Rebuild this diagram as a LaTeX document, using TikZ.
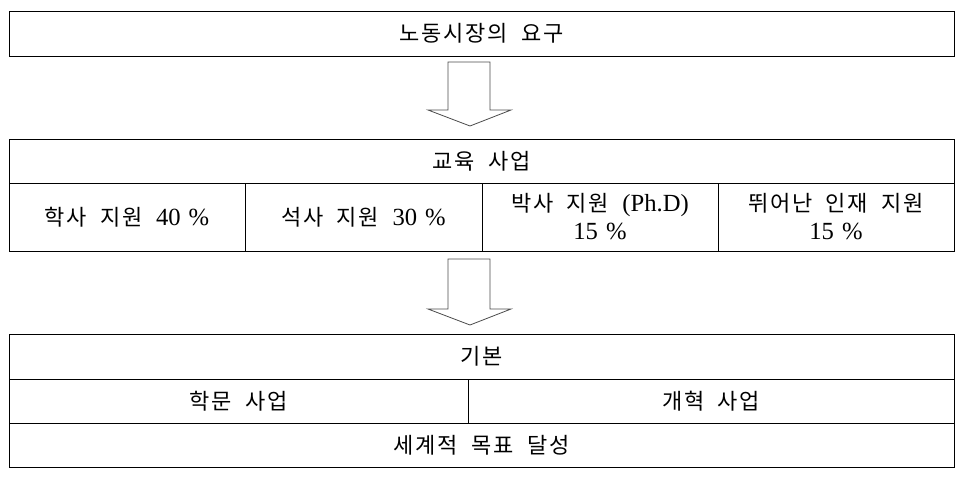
\documentclass[tikz,border=0pt]{standalone}
\usepackage{fontspec}
\setmainfont[Scale=1.12,WordSpace=1.3]{Liberation Serif}
\newfontfamily\kr[LetterSpace=8,WordSpace=2]{Noto Sans CJK KR}
\begin{document}
\begin{tikzpicture}[x=1pt,y=-1pt,
  cell/.style={draw=black,line width=0.9pt,inner sep=0pt,anchor=center,align=center,font=\fontsize{22}{28}\selectfont},
  blockarrow/.style={draw=black!70,line width=0.8pt,fill=white,line join=miter}]
\useasboundingbox (0,0) rectangle (968,479);
% top box
\node[cell,minimum width=945pt,minimum height=45pt] (need) at (481.5,33.5) {{\kr 노동시장의 요구}};
% education box
\node[cell,minimum width=945pt,minimum height=44pt] (edu) at (481.5,161) {{\kr 교육 사업}};
\node[cell,minimum width=236pt,minimum height=68pt] (ba) at (127,217) {{\kr 학사 지원 }40 \%};
\node[cell,minimum width=237pt,minimum height=68pt] (ma) at (363.5,217) {{\kr 석사 지원 }30 \%};
\node[cell,minimum width=236pt,minimum height=68pt] (phd) at (600,217) {{\kr 박사 지원 }(Ph.D)\\15 \%};
\node[cell,minimum width=236pt,minimum height=68pt] (tal) at (836,217) {{\kr 뛰어난 인재 지원}\\15 \%};
% bottom box
\node[cell,minimum width=945pt,minimum height=45pt] (base) at (481.5,356.5) {{\kr 기본}};
\node[cell,minimum width=459pt,minimum height=44pt] (acad) at (238.5,401) {{\kr 학문 사업}};
\node[cell,minimum width=486pt,minimum height=44pt] (ref) at (711,401) {{\kr 개혁 사업}};
\node[cell,minimum width=945pt,minimum height=44pt] (goal) at (481.5,445) {{\kr 세계적 목표 달성}};
% block arrows
\draw[blockarrow] (448,62) -- (490,62) -- (490,110) -- (511,110) -- (470,126) -- (428,110) -- (448,110) -- cycle;
\draw[blockarrow] (448,259) -- (490,259) -- (490,309) -- (511,309) -- (470,325) -- (428,309) -- (448,309) -- cycle;
\end{tikzpicture}
\end{document}
